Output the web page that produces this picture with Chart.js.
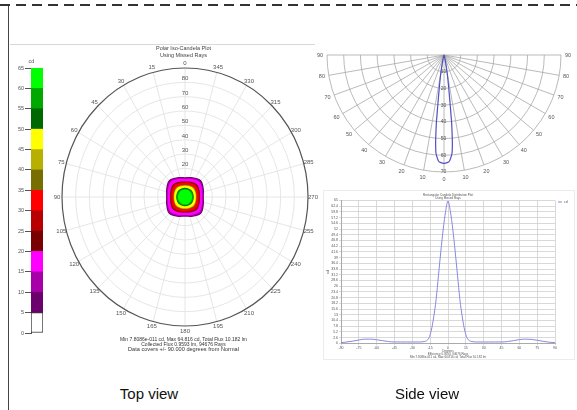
<!DOCTYPE html>
<html><head><meta charset="utf-8">
<script src="https://cdn.jsdelivr.net/npm/chart.js@4.4.1/dist/chart.umd.min.js"></script>
<style>
html,body{margin:0;padding:0;background:#fff;}
body{width:577px;height:410px;position:relative;overflow:hidden;font-family:"Liberation Sans",Arial,sans-serif;}
canvas{position:absolute;}
#dash{position:absolute;left:0;top:4px;width:577px;height:2px;background:repeating-linear-gradient(90deg,#333 0,#333 10px,transparent 10px,transparent 16px);}
#vline{position:absolute;left:8px;top:6px;width:1px;height:404px;background:#444;}
#hline{position:absolute;left:10px;top:44px;width:305px;height:1px;background:#d8d8d8;}
#frame{position:absolute;left:323px;top:190px;width:252px;height:170px;border:1px solid #ececec;box-sizing:border-box;}
.cap{position:absolute;top:386px;font-size:15px;color:#111;transform:translateX(-50%);line-height:15px;white-space:nowrap;}
</style></head><body>
<div id="dash"></div><div id="vline"></div><div id="hline"></div><div id="frame"></div>
<canvas id="cb" width="40" height="290" style="left:10px;top:55px"></canvas>
<canvas id="top" width="290" height="312" style="left:40px;top:44px"></canvas>
<canvas id="side" width="267" height="145" style="left:310px;top:45px"></canvas>
<canvas id="rect" width="262" height="177" style="left:315px;top:188px"></canvas>
<div class="cap" style="left:149px">Top view</div>
<div class="cap" style="left:427px">Side view</div>
<script>
// ---------------- data ----------------
const cbLevels = [0,5,10,15,20,25,30,35,40,45,50,55,60,65];
const cbColors = ['#ffffff','#6c006c','#a800a8','#ff00ff','#780000','#b80000','#ff0000','#786e00','#b8b000','#ffff00','#006800','#00a800','#00ff00'];

const topRings = [10,20,30,40,50,60,70,80];
const topOuter = 90;
const topSpokes = [0,15,30,45,60,75,90,105,120,135,150,165,180,195,210,225,240,255,270,285,300,315,330,345];
const topRingLabels = [10,20,30,40,50,60,70,80];

const contourLevels = [5,10,15,20,25,30,35,40,45,50,55,60];
const contourR0  = [13.8,13.3,12.6,10.9,10.4,9.9,8.5,8.2,7.9,6.4,6.0,5.2];
const contourR22 = [14.9,14.3,13.5,11.5,10.9,10.4,8.8,8.5,8.1,6.5,6.1,5.2];
const contourR45 = [16.6,15.9,14.9,12.4,11.7,11.1,9.3,8.9,8.5,6.7,6.2,5.3];

const sideRings = [10,20,30,40,50,60,70];
const sideSpokes = [-90,-80,-70,-60,-50,-40,-30,-20,-10,0,10,20,30,40,50,60,70,80,90];
const sideAngles = [-20,-17,-14,-12,-10,-9,-8,-7,-6.4,-6,-5.6,-5.2,-4.7,-4,-3,-2,0,2,3,4,4.7,5.2,5.6,6,6.4,7,8,9,10,12,14,17,20];
const sideCd     = [0,0.5,2,5,11,15,21,31,41,46,51,55,58.8,61,63.5,64.3,64.8,64.3,63.5,61,58.8,55,51,46,41,31,21,15,11,5,2,0.5,0];

const rectAngles = [-90,-85,-80,-75,-70,-65,-60,-55,-50,-45,-40,-35,-30,-25,-20,-18,-16,-14,-12,-10,-8,-6,-4,-2,0,2,4,6,8,10,12,14,16,18,20,25,30,35,40,45,50,55,60,65,70,75,80,85,90];
const rectCd     = [0.3,0.6,1.0,1.5,1.9,1.9,1.6,1.2,0.8,0.6,0.6,0.6,0.6,0.6,0.8,1.2,2.5,6,12,20,31,42,52,60,64.8,60,52,42,31,20,12,6,2.5,1.2,0.8,0.6,0.6,0.6,0.6,0.6,0.8,1.2,1.7,1.9,1.8,1.4,0.9,0.5,0.3];
const rectYMax = 65, rectYStep = 2.6, rectXStep = 15;

const topTitle = ['Polar Iso-Candela Plot','Using Missed Rays'];
const topNotes = ['Min 7.8086e-011 cd, Max 64.816 cd, Total Flux 10.182 lm','Collected Flux 0.9593 lm, 94676 Rays','Data covers +/- 90.000 degrees from Normal'];
const rectTitle = ['Rectangular Candela Distribution Plot','Using Missed Rays'];
const rectNotes = ['Degrees','Efficiency 0.9593, 94676 Rays','Min 7.8086e-011 cd, Max 64.816 cd, Total Flux 10.182 lm'];
const unit = 'cd';

// ---------------- setup ----------------
const FF = '"Liberation Sans", Arial, sans-serif';
Chart.defaults.font.family = FF;
Chart.defaults.animation = false;
Chart.defaults.responsive = false;
Chart.defaults.devicePixelRatio = 1;
Chart.defaults.plugins.legend.display = false;
Chart.defaults.plugins.tooltip.enabled = false;
Chart.defaults.events = [];
const D = Math.PI/180;

// ---------- colour bar ----------
new Chart(document.getElementById('cb'), {
  type:'bar',
  data:{labels:[unit], datasets: cbColors.map((c,i)=>({
    data:[[cbLevels[i],cbLevels[i+1]]], backgroundColor:c,
    borderColor:'#333', borderWidth: i===0?1:0, borderSkipped:false,
    barPercentage:1, categoryPercentage:1
  }))},
  options:{
    layout:{padding:{top:13,bottom:12,right:7,left:0}},
    scales:{
      x:{display:false, stacked:true},
      y:{min:0,max:65, ticks:{stepSize:5, font:{size:5.5}, color:'#555', padding:1},
         grid:{drawOnChartArea:false, tickLength:6, color:'#555'}, border:{color:'#555'},
         afterFit(s){ s.width = 21; }}
    }
  },
  plugins:[{id:'cbt', afterDraw(ch){
    const c=ch.ctx; c.save(); c.fillStyle='#555'; c.font='5.5px '+FF; c.textAlign='center'; c.textBaseline='middle';
    c.fillText(unit, ch.chartArea.left+0.5, ch.chartArea.top-7); c.restore();
  }}]
});

// ---------- top view (polar iso-candela) ----------
const topDatasets = contourLevels.map((lv,i)=>{
  const pts=[];
  for(let k=0;k<=16;k++){
    const r=[contourR0[i],contourR22[i],contourR45[i],contourR22[i]][k%4];
    const a=k*22.5*D;
    pts.push({x:-r*Math.sin(a), y:r*Math.cos(a)});
  }
  return {data:pts, showLine:true, fill:'shape', backgroundColor:cbColors[cbLevels.indexOf(lv)],
          borderWidth:0, pointRadius:0, tension:0.35, order:contourLevels.length-i};
});
const topPlot = {
  id:'topPlot',
  beforeDatasetsDraw(ch){
    const c=ch.ctx, x=ch.scales.x, y=ch.scales.y;
    const cx=x.getPixelForValue(0), cy=y.getPixelForValue(0);
    const rx=v=>x.getPixelForValue(v)-cx, ry=v=>cy-y.getPixelForValue(v);
    c.save();
    c.strokeStyle='#e0e0e0'; c.lineWidth=0.8;
    topRings.forEach(r=>{ c.beginPath(); c.ellipse(cx,cy,rx(r),ry(r),0,0,2*Math.PI); c.stroke(); });
    topSpokes.forEach(a=>{ const t=a*D; c.beginPath(); c.moveTo(cx,cy);
      c.lineTo(x.getPixelForValue(-topOuter*Math.sin(t)), y.getPixelForValue(topOuter*Math.cos(t))); c.stroke(); });
    c.strokeStyle='#555'; c.lineWidth=1.2; c.beginPath(); c.ellipse(cx,cy,rx(topOuter),ry(topOuter),0,0,2*Math.PI); c.stroke();
    c.fillStyle='#555'; c.font='6px '+FF; c.textAlign='center'; c.textBaseline='middle';
    topSpokes.forEach(a=>{ const t=a*D;
      c.fillText(String(a), cx-(rx(topOuter)+5)*Math.sin(t), cy-(ry(topOuter)+5)*Math.cos(t)); });
    topRingLabels.forEach(r=>{ c.fillText(String(r), cx, cy-ry(r)-3.5); });
    c.restore();
  },
  afterDraw(ch){
    const c=ch.ctx, x=ch.scales.x; const cx=x.getPixelForValue(0)-1.5;
    c.save(); c.fillStyle='#444'; c.textAlign='center'; c.textBaseline='middle';
    c.font='5.5px '+FF;
    c.fillText(topTitle[0], cx, 4.5); c.fillText(topTitle[1], cx, 11);
    c.font='5px '+FF; c.fillStyle='#333';
    c.fillText(topNotes[0], cx, 295.3); c.fillText(topNotes[1], cx, 300.3);
    c.font='5.6px '+FF; c.fillText(topNotes[2], cx, 305.5);
    c.restore();
  }
};
new Chart(document.getElementById('top'), {
  type:'scatter',
  data:{datasets:topDatasets},
  options:{
    layout:{padding:{left:22,right:22,top:24,bottom:30}},
    scales:{x:{display:false,min:-90,max:90}, y:{display:false,min:-90,max:90}}
  },
  plugins:[topPlot]
});

// ---------- side view (polar candela) ----------
const sidePlot = {
  id:'sidePlot',
  beforeDatasetsDraw(ch){
    const c=ch.ctx, x=ch.scales.x, y=ch.scales.y;
    const cx=x.getPixelForValue(0), cy=y.getPixelForValue(0);
    const R=sideRings[sideRings.length-1];
    const rx=v=>x.getPixelForValue(v)-cx, ry=v=>y.getPixelForValue(-v)-cy;
    c.save(); c.strokeStyle='#a8a8a8'; c.lineWidth=0.8;
    sideRings.forEach(r=>{ c.beginPath(); c.ellipse(cx,cy,rx(r),ry(r),0,0,Math.PI); c.stroke(); });
    sideSpokes.forEach(a=>{ const t=a*D; c.beginPath(); c.moveTo(cx,cy);
      c.lineTo(x.getPixelForValue(R*Math.sin(t)), y.getPixelForValue(-R*Math.cos(t))); c.stroke(); });
    c.fillStyle='#555'; c.font='5.5px '+FF; c.textAlign='center'; c.textBaseline='middle';
    sideSpokes.forEach(a=>{ const t=a*D;
      c.fillText(String(Math.abs(a)), cx+(rx(R)+7)*Math.sin(t), cy+(ry(R)+7)*Math.cos(t)); });
    c.font='5px '+FF;
    sideRings.forEach(r=>{ c.fillText(String(r), cx-0.5, cy+ry(r)); });
    c.restore();
  }
};
new Chart(document.getElementById('side'), {
  type:'scatter',
  data:{datasets:[{data:sideAngles.map((a,i)=>({x:sideCd[i]*Math.sin(a*D), y:-sideCd[i]*Math.cos(a*D)})),
    showLine:true, borderColor:'#5050c0', borderWidth:1.2, pointRadius:0, tension:0.3, fill:false}]},
  options:{
    layout:{padding:{left:17,right:16,top:10,bottom:18}},
    scales:{x:{display:false,min:-70,max:70}, y:{display:false,min:-70,max:0}}
  },
  plugins:[sidePlot]
});

// ---------- rectangular candela plot ----------
const rectText = {
  id:'rectText',
  afterDraw(ch){
    const c=ch.ctx, a=ch.chartArea; const cx=(a.left+a.right)/2;
    c.save(); c.fillStyle='#555'; c.textAlign='center'; c.textBaseline='middle';
    c.font='3px '+FF;
    c.fillText(rectTitle[0], cx, 7); c.fillText(rectTitle[1], cx, 10);
    c.fillText(rectNotes[0], cx, 163); c.fillText(rectNotes[1], cx, 166.3); c.fillText(rectNotes[2], cx, 169.5);
    // legend
    const ly=a.top+1.5;
    c.strokeStyle='#8888dd'; c.lineWidth=1; c.beginPath(); c.moveTo(a.right+3,ly); c.lineTo(a.right+7,ly); c.stroke();
    c.font='3.5px '+FF; c.textAlign='left'; c.fillText(unit, a.right+9, ly);
    c.restore();
  }
};
new Chart(document.getElementById('rect'), {
  type:'line',
  data:{datasets:[{data:rectAngles.map((v,i)=>({x:v,y:rectCd[i]})), borderColor:'#8888dd', borderWidth:1,
    pointRadius:0, cubicInterpolationMode:'monotone', fill:false}]},
  options:{
    layout:{padding:{left:10,top:12.5,right:22,bottom:0}},
    scales:{
      x:{type:'linear', min:-90, max:90,
         ticks:{stepSize:rectXStep, font:{size:3.5}, color:'#555', padding:1, maxRotation:0, autoSkip:false},
         grid:{color:'#cfcfcf', lineWidth:0.8, tickLength:2}, border:{color:'#aaa'},
         afterFit(s){ s.height = 21.7; }},
      y:{min:0, max:rectYMax,
         ticks:{stepSize:rectYStep, font:{size:3.5}, color:'#555', padding:1, autoSkip:false},
         grid:{color:'#cfcfcf', lineWidth:0.8, tickLength:2}, border:{color:'#aaa'},
         title:{display:true, text:unit, font:{size:4}, color:'#555', padding:0},
         afterFit(s){ s.width = 16; }}
    }
  },
  plugins:[rectText]
});
</script>
</body></html>
